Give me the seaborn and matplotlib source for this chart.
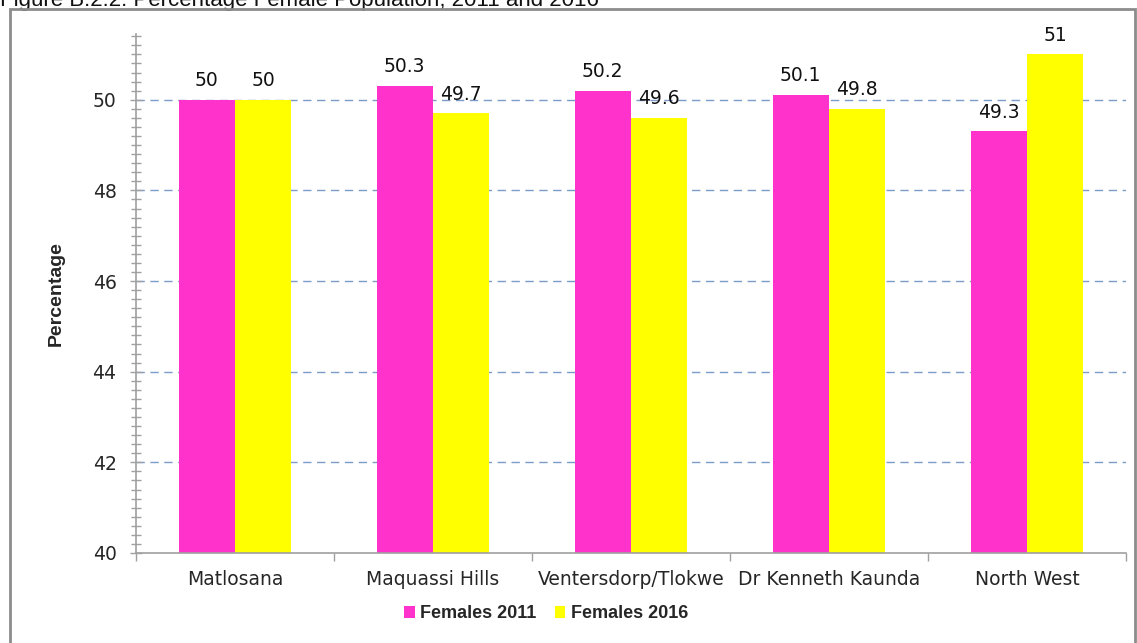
import matplotlib
matplotlib.use("Agg")
import matplotlib.pyplot as plt
from matplotlib.patches import Rectangle, Patch
from matplotlib.ticker import MultipleLocator
import seaborn as sns
import pandas as pd

regions = ["Matlosana", "Maquassi Hills", "Ventersdorp/Tlokwe", "Dr Kenneth Kaunda", "North West"]
females_2011 = [50.0, 50.3, 50.2, 50.1, 49.3]
females_2016 = [50.0, 49.7, 49.6, 49.8, 51.0]
value_labels_2011 = ["50", "50.3", "50.2", "50.1", "49.3"]
value_labels_2016 = ["50", "49.7", "49.6", "49.8", "51"]
series_names = ["Females 2011", "Females 2016"]
colors = ["#FF33CC", "#FFFF00"]

df = pd.DataFrame({
    "Region": regions * 2,
    "Value": females_2011 + females_2016,
    "Series": [series_names[0]] * len(regions) + [series_names[1]] * len(regions),
})

sns.set_style("white")
plt.rcParams["font.family"] = ["DejaVu Sans"]

fig = plt.figure(figsize=(11.37, 6.43), dpi=100)
ax = fig.add_axes([136 / 1137, 1 - 553 / 643, (1126 - 136) / 1137, (553 - 34) / 643])

sns.barplot(data=df, x="Region", y="Value", hue="Series", palette=colors,
            width=0.57, saturation=1, ax=ax, legend=False, edgecolor="none")

ax.set_ylim(40, 51.45)
ax.set_xlim(-0.5, len(regions) - 0.5)

# dashed horizontal gridlines
for y in [42, 44, 46, 48, 50]:
    ax.axhline(y, color="#7B9BC8", lw=1.0, ls=(0, (6, 4)), zorder=0)

# value labels
for container, labels in zip(ax.containers, [value_labels_2011, value_labels_2016]):
    ax.bar_label(container, labels=labels, padding=7, fontsize=13.5, color="#111111")

# axes styling
for side in ["top", "right"]:
    ax.spines[side].set_visible(False)
for side in ["left", "bottom"]:
    ax.spines[side].set_color("#A0A0A0")
    ax.spines[side].set_linewidth(1.2)

ax.yaxis.set_major_locator(MultipleLocator(2))
ax.yaxis.set_minor_locator(MultipleLocator(0.2))
ax.tick_params(axis="y", which="both", left=True, direction="inout", length=8, width=1,
               color="#A0A0A0", labelsize=13.5, pad=10)
ax.tick_params(axis="y", which="minor", length=7)

ax.set_xticks(range(len(regions)))
ax.set_xticklabels(regions)
ax.set_xticks([i - 0.5 for i in range(len(regions) + 1)], minor=True)
ax.tick_params(axis="x", which="major", bottom=True, length=0, labelsize=13.5, pad=12)
ax.tick_params(axis="x", which="minor", bottom=True, direction="out", length=6, width=1,
               color="#A0A0A0")

ax.set_xlabel("")
ax.set_ylabel("Percentage", fontsize=14, fontweight="bold", labelpad=20,
              family="Liberation Sans")

# legend below the axes
handles = [Patch(facecolor=c, edgecolor="none") for c in colors]
fig.legend(handles, series_names, loc="center", bbox_to_anchor=(546 / 1137, 1 - 614 / 643),
           ncol=2, frameon=False,
           prop={"weight": "bold", "size": 13, "family": "Liberation Sans"},
           handlelength=0.6, handleheight=0.6, handletextpad=0.3, columnspacing=1.0)

# title strip at the top and outer frame
fig.text(0.0, 1 - 6 / 643, "Figure B.2.2: Percentage Female Population, 2011 and 2016",
         fontsize=16, va="baseline", ha="left", color="#111111", family="Liberation Sans")
fig.patches.append(Rectangle((10 / 1137, -0.02), (1135 - 10) / 1137, 1 - 9 / 643 + 0.02,
                             transform=fig.transFigure, fill=False,
                             edgecolor="#8C8C8C", lw=2, zorder=10))

fig.savefig("out.png", dpi=100)
